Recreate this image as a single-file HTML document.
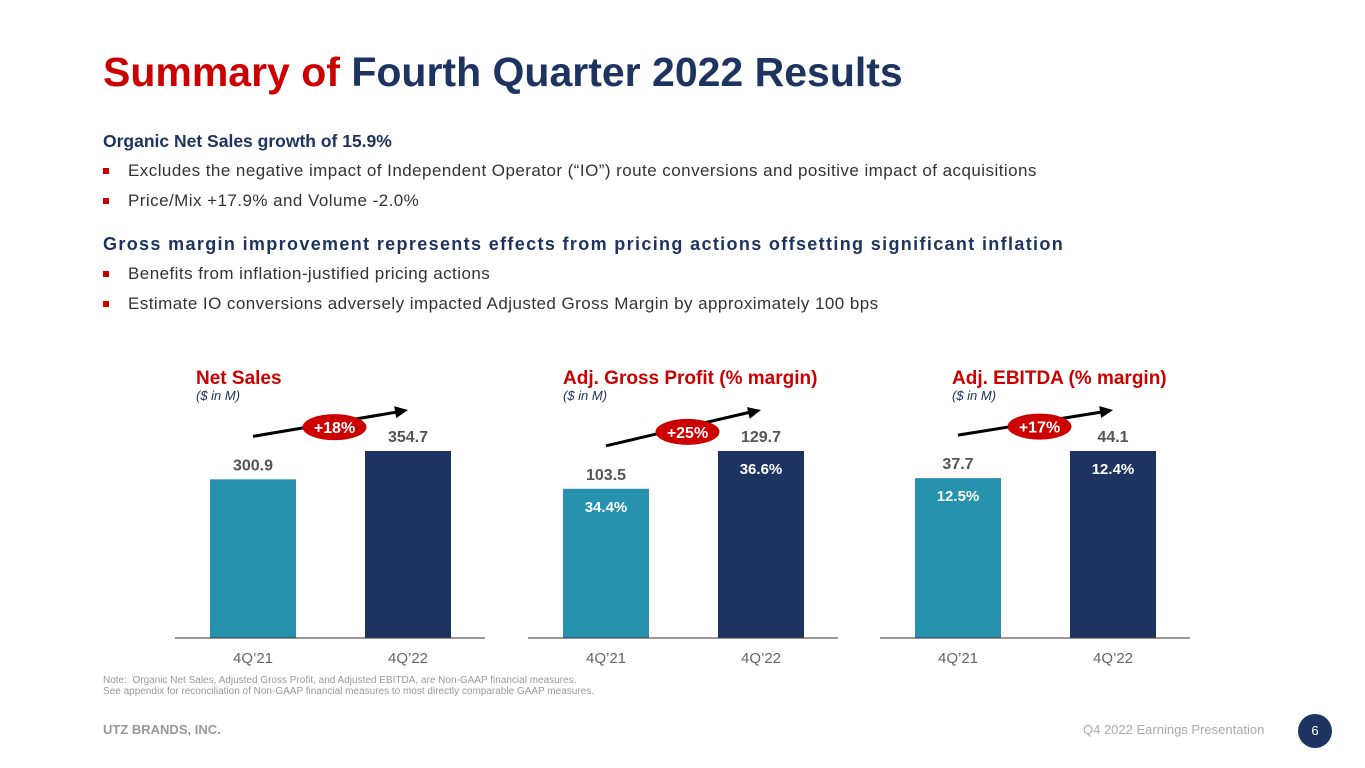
<!DOCTYPE html>
<html><head><meta charset="utf-8">
<style>
body{margin:0;width:1365px;height:768px;background:#fff;font-family:"Liberation Sans",sans-serif;position:relative;overflow:hidden}
.a{position:absolute;white-space:nowrap}
h1{position:absolute;left:103px;top:49px;margin:0;font-size:41px;font-weight:bold;color:#1d3360}
.hd{font-size:18px;font-weight:bold;color:#1d3360}
.bl{font-size:17px;color:#333;letter-spacing:0.45px}
.bl:before{content:"";position:absolute;left:-25px;top:7px;width:6px;height:6px;background:#c00}
</style></head><body>
<h1><span style="color:#c00">Summary of</span> Fourth Quarter 2022 Results</h1>
<div class="a hd" style="left:103px;top:131px;font-size:17.5px">Organic Net Sales growth of 15.9%</div>
<div class="a bl" style="left:128px;top:161px">Excludes the negative impact of Independent Operator (“IO”) route conversions and positive impact of acquisitions</div>
<div class="a bl" style="left:128px;top:191px">Price/Mix +17.9% and Volume -2.0%</div>
<div class="a hd" style="left:103px;top:234px;letter-spacing:1.35px">Gross margin improvement represents effects from pricing actions offsetting significant inflation</div>
<div class="a bl" style="left:128px;top:264px">Benefits from inflation-justified pricing actions</div>
<div class="a bl" style="left:128px;top:294px">Estimate IO conversions adversely impacted Adjusted Gross Margin by approximately 100 bps</div>
<svg id="ch" class="a" style="left:0;top:0" width="1365" height="768"></svg>
<div class="a" style="left:103px;top:675px;font-size:10px;color:#999;line-height:11px">Note:&nbsp; Organic Net Sales, Adjusted Gross Profit, and Adjusted EBITDA, are Non-GAAP financial measures.<br>See appendix for reconciliation of Non-GAAP financial measures to most directly comparable GAAP measures.</div>
<div class="a" style="left:103px;top:722px;font-size:13px;font-weight:bold;color:#999">UTZ BRANDS, INC.</div>
<div class="a" style="left:1083px;top:722px;font-size:13px;color:#aaa">Q4 2022 Earnings Presentation</div>
<div class="a" style="left:1298px;top:714px;width:34px;height:34px;border-radius:17px;background:#1d3360;color:#fff;font-size:13px;text-align:center;line-height:34px">6</div>
<script>
const titles=["Net Sales","Adj. Gross Profit (% margin)","Adj. EBITDA (% margin)"];
const categories=["4Q’21","4Q’22"];
const values=[[300.9,354.7],[103.5,129.7],[37.7,44.1]];
const valueLabels=[["300.9","354.7"],["103.5","129.7"],["37.7","44.1"]];
const margins=[[null,null],["34.4%","36.6%"],["12.5%","12.4%"]];
const growth=["+18%","+25%","+17%"];
const NS="http://www.w3.org/2000/svg";
const svg=document.getElementById('ch');
function mk(t,a,txt){const e=document.createElementNS(NS,t);for(const k in a)e.setAttribute(k,a[k]);if(txt!=null)e.textContent=txt;svg.appendChild(e);return e;}
const axisX=[175,528,880],titleX=[196,563,952],base=638,maxH=187,bw=86;
const colors=["#2792ad","#1d3360"];
for(let c=0;c<3;c++){
  const x0=axisX[c];
  const mx=Math.max(...values[c]);
  const y=v=>base-v/mx*maxH;
  const bx=i=>x0+35+i*155;
  let t=mk('text',{x:titleX[c],y:384,'font-size':19,'font-weight':'bold',fill:'#c00'},titles[c]);
  
  t=mk('text',{x:titleX[c],y:400,'font-size':13,'font-style':'italic',fill:'#1d3360'},'($ in M)');
  
  const tops=[];
  for(let i=0;i<2;i++){
    const ty=y(values[c][i]);tops.push(ty);
    let r=mk('rect',{x:bx(i),y:ty,width:bw,height:base-ty,fill:colors[i]});
    
    t=mk('text',{x:bx(i)+bw/2,y:ty-9,'text-anchor':'middle','font-size':16,'font-weight':'bold',fill:'#555'},valueLabels[c][i]);
    
    if(margins[c][i]){t=mk('text',{x:bx(i)+bw/2,y:ty+23,'text-anchor':'middle','font-size':15,'font-weight':'bold',fill:'#fff'},margins[c][i]);
    }
    t=mk('text',{x:bx(i)+bw/2,y:663,'text-anchor':'middle','font-size':15,fill:'#666'},categories[i]);
    
  }
  let l=mk('line',{x1:x0,x2:x0+310,y1:base,y2:base,stroke:'#333','stroke-width':1});
  
  const ax1=bx(0)+43,ay1=tops[0]-43,ax2=bx(1)+43,ay2=Math.min(tops[0],tops[1])-41;
  l=mk('line',{x1:ax1,y1:ay1,x2:ax2-8,y2:ay2+1.5,stroke:'#000','stroke-width':3});
  
  const ang=Math.atan2(ay2-ay1,ax2-ax1);
  const p=(d,o)=>[ax2-d*Math.cos(ang)-o*Math.sin(ang),ay2-d*Math.sin(ang)+o*Math.cos(ang)];
  const [b1,b2]=[p(13,6),p(13,-6)];
  mk('polygon',{points:`${ax2},${ay2} ${b1[0]},${b1[1]} ${b2[0]},${b2[1]}`,fill:'#000'});
  const pcx=(ax1+ax2)/2+4,pcy=(ay1+ay2)/2+4;
  const el=mk('ellipse',{cx:pcx,cy:pcy,rx:32,ry:13,fill:'#c00'});
  
  t=mk('text',{x:pcx,y:pcy+6,'text-anchor':'middle','font-size':16,'font-weight':'bold',fill:'#fff'},growth[c]);
  
}
</script>
</body></html>
